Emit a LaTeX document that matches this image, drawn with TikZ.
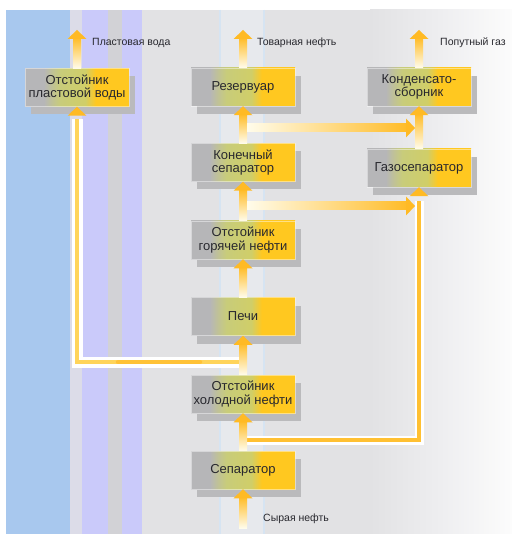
\documentclass[tikz,border=0pt]{standalone}
\usepackage{fontspec}
\setmainfont{Liberation Sans}
\usetikzlibrary{shadows,calc}
\definecolor{bgblue}{RGB}{168,200,238}
\definecolor{bgstrip}{RGB}{220,220,232}
\definecolor{bglav}{RGB}{202,202,250}
\definecolor{bggraytwo}{RGB}{210,210,214}
\definecolor{bggray}{RGB}{226,226,228}
\definecolor{bglight}{RGB}{238,238,240}
\definecolor{bgwhite}{RGB}{252,252,252}
\definecolor{bandblue}{RGB}{214,228,242}
\definecolor{bandfill}{RGB}{231,233,237}
\definecolor{bxgray}{RGB}{182,182,184}
\definecolor{bxmid}{RGB}{192,194,150}
\definecolor{bxolive}{RGB}{200,204,122}
\definecolor{bxolivetwo}{RGB}{208,206,104}
\definecolor{bxyel}{RGB}{255,200,32}
\definecolor{shadowgray}{RGB}{186,186,188}
\definecolor{boxtext}{RGB}{40,40,46}
\definecolor{arrtop}{RGB}{255,188,40}
\definecolor{arrbot}{RGB}{255,252,235}
\definecolor{arrhead}{RGB}{255,186,36}
\definecolor{pipecore}{RGB}{255,212,90}
\definecolor{pipeorange}{RGB}{255,192,50}
\pgfdeclarehorizontalshading{boxshade}{100bp}{color(0bp)=(bxgray); color(34bp)=(bxgray); color(38bp)=(bxmid); color(42bp)=(bxolive); color(54bp)=(bxolivetwo); color(59bp)=(bxyel); color(100bp)=(bxyel)}
\newcommand\headup[1]{%
  \fill[arrhead] let \p1=(#1) in (\x1-9.5pt,\y1-9pt) -- (\x1,\y1) -- (\x1+9.5pt,\y1-9pt) -- cycle;}
\newcommand\upflow[2]{%
  \shade[top color=arrtop, bottom color=arrbot] let \p1=(#1), \p2=(#2) in (\x1-4pt,\y1) rectangle (\x1+4pt,\y2-8pt);
  \fill[arrhead] let \p1=(#1), \p2=(#2) in (\x1-9.5pt,\y2-9pt) -- (\x1,\y2) -- (\x1+9.5pt,\y2-9pt) -- cycle;}
\newcommand\rightflow[2]{%
  \shade[left color=arrbot, middle color=arrtop!45!white, right color=arrtop] let \p1=(#1), \p2=(#2) in (\x1+4pt,\y1-4pt) rectangle (\x2-8pt,\y1+4pt);
  \fill[arrhead] let \p1=(#1), \p2=(#2) in (\x2-9pt,\y1+9.5pt) -- (\x2,\y1) -- (\x2-9pt,\y1-9.5pt) -- cycle;}
\begin{document}
\begin{tikzpicture}[x=1pt,y=-1pt,
  box/.style={rectangle, minimum width=104pt, minimum height=38pt, inner sep=1pt,
    align=center, font=\fontsize{13}{13.5}\selectfont, text=boxtext,
    shade, shading=boxshade, draw=white, draw opacity=.45, line width=.5pt,
    drop shadow={shadow xshift=6pt, shadow yshift=-8pt, fill=shadowgray, opacity=1, draw=none}},
  lab/.style={anchor=west, inner sep=0pt, font=\fontsize{10.5}{12}\selectfont, text=boxtext},
  pipewhite/.style={draw=white, line width=11pt},
  pipecorestyle/.style={draw=pipecore, line width=3.5pt}]
\useasboundingbox (0,0) rectangle (512,534);
% background
\fill[white] (0,0) rectangle (512,534);
\fill[bgblue] (6,10) rectangle (70,534);
\fill[bgstrip] (70,10) rectangle (82,534);
\fill[bglav] (82,10) rectangle (108,534);
\fill[bggraytwo] (108,10) rectangle (122,534);
\fill[bglav] (122,10) rectangle (142,534);
\fill[bggray] (142,10) rectangle (370,534);
\shade[left color=bggray, right color=bglight] (370,10) rectangle (440,534);
\shade[left color=bglight, right color=bgwhite] (440,10) rectangle (512,534);
\fill[bandfill] (220,10) rectangle (264,534);
\draw[bandblue, line width=2pt] (220,10) -- (220,534) (264,10) -- (264,534);

% boxes
\node[box] (water) at (77,87.5) {Отстойник\\пластовой воды};
\node[box] (res) at (243,87) {Резервуар};
\node[box] (kond) at (419,87) {Конденсато-\\сборник};
\node[box] (fin) at (243,162.5) {Конечный\\сепаратор};
\node[box] (gas) at (419,168) {Газосепаратор};
\node[box] (hot) at (243,240) {Отстойник\\горячей нефти};
\node[box] (pech) at (243,316.5) {Печи};
\node[box] (cold) at (243,394) {Отстойник\\холодной нефти};
\node[box] (sep) at (243,470) {Сепаратор};

% junction and end coordinates
\coordinate (wj) at (243,362);
\coordinate (gj) at (243,440);
\coordinate (h1) at (243,128);
\coordinate (h1e) at (415,128);
\coordinate (h2) at (243,206);
\coordinate (h2e) at (415,206);
\coordinate (out1) at (77,30);
\coordinate (out2) at (243,30);
\coordinate (out3) at (419,30);
\coordinate (inp) at (243,528);

% pipes
\draw[pipewhite] (wj) -- (wj -| water.south) -- ([yshift=-12pt]water.south);
\draw[pipecorestyle] (wj) -- (wj -| water.south) -- ([yshift=-12pt]water.south);
\draw[pipeorange, line width=4.5pt, line cap=round, opacity=.85] (118,362) -- (200,362);
\draw[draw=white, line width=9pt] (gj) -- (gj -| gas.south) -- ([yshift=-14pt]gas.south);
\draw[draw=pipeorange, line width=4pt] (gj) -- (gj -| gas.south) -- ([yshift=-14pt]gas.south);
\headup{water.south}
\headup{gas.south}

% flows
\upflow{inp}{sep.south}
\upflow{sep.north}{cold.south}
\upflow{cold.north}{pech.south}
\upflow{pech.north}{hot.south}
\upflow{hot.north}{fin.south}
\upflow{fin.north}{res.south}
\upflow{gas.north}{kond.south}
\upflow{water.north}{out1}
\upflow{res.north}{out2}
\upflow{kond.north}{out3}
\rightflow{h1}{h1e}
\rightflow{h2}{h2e}

% labels
\node[lab] (l1) at (92,43) {Пластовая вода};
\node[lab] (l2) at (257,43) {Товарная нефть};
\node[lab] (l3) at (440,43) {Попутный газ};
\node[lab] (l4) at (263,519) {Сырая нефть};
\end{tikzpicture}
\end{document}
